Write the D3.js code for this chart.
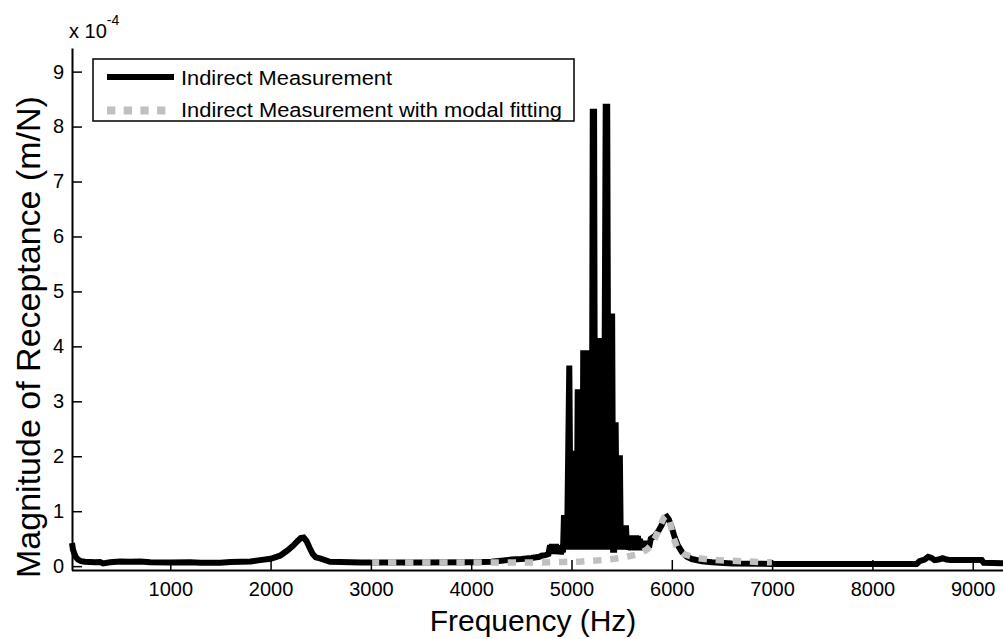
<!DOCTYPE html>
<html>
<head>
<meta charset="utf-8">
<script src="https://cdn.jsdelivr.net/npm/d3@7"></script>
<style>
  body { margin: 0; background: #fff; }
  svg { display: block; }
  text { font-family: "Liberation Sans", Arial, sans-serif; fill: #000; }
</style>
</head>
<body>
<svg id="chart" width="1003" height="639"></svg>
<script>
// Receptance magnitude in units of 1e-4 m/N, frequency in Hz.
// Indirect measurement: [frequency, magnitude]
const measured = [
  [20, 0.42], [30, 0.30], [45, 0.22], [60, 0.16], [80, 0.12], [110, 0.09], [150, 0.08],
  [250, 0.07], [300, 0.075], [330, 0.05], [400, 0.07], [500, 0.085], [600, 0.08],
  [700, 0.085], [800, 0.07], [1000, 0.065], [1200, 0.07], [1300, 0.06], [1500, 0.06],
  [1600, 0.075], [1700, 0.08], [1800, 0.085], [1894, 0.11], [2000, 0.135], [2094, 0.19],
  [2164, 0.28], [2223, 0.37], [2260, 0.44], [2300, 0.51], [2330, 0.52], [2360, 0.45],
  [2390, 0.33], [2420, 0.22], [2450, 0.16], [2493, 0.14], [2592, 0.08], [2700, 0.075],
  [2800, 0.07], [2900, 0.065],
  [3000, 0.065], [3500, 0.065], [4000, 0.07], [4200, 0.08], [4300, 0.1], [4400, 0.12],
  [4500, 0.13], [4600, 0.15], [4680, 0.17], [4700, 0.19], [4740, 0.2], [4770, 0.22],
  // dense resonance band
  [4786, 0.38], [4795, 0.22], [4805, 0.40], [4815, 0.22], [4825, 0.40], [4835, 0.24],
  [4845, 0.40], [4855, 0.22], [4865, 0.38], [4875, 0.22], [4885, 0.30], [4895, 0.22],
  [4905, 0.30], [4915, 0.25], [4925, 0.93], [4935, 0.30], [4945, 0.93], [4955, 0.30],
  [4978, 3.65], [4992, 0.30], [5002, 1.20], [5012, 0.30], [5025, 2.10], [5037, 0.30],
  [5045, 1.50], [5052, 0.30], [5062, 3.22], [5072, 0.30], [5082, 3.22], [5092, 0.30],
  [5100, 3.22], [5108, 0.30], [5117, 3.93], [5127, 0.30], [5137, 3.93], [5147, 0.30],
  [5157, 3.93], [5167, 0.30], [5177, 3.93], [5187, 0.30], [5195, 3.90], [5202, 0.30],
  [5212, 8.27], [5225, 8.27], [5235, 0.30], [5245, 4.15], [5253, 0.30], [5262, 4.15],
  [5270, 0.30], [5278, 4.15], [5288, 0.30], [5304, 3.15], [5322, 0.30], [5341, 8.36],
  [5356, 8.36], [5370, 0.30], [5385, 4.60], [5395, 0.30], [5405, 4.60], [5415, 0.30],
  [5425, 0.30], [5440, 2.62], [5452, 0.30], [5465, 2.02], [5475, 0.30], [5482, 2.02],
  [5492, 0.30], [5503, 0.74], [5513, 0.32], [5523, 0.74], [5533, 0.30], [5543, 0.74],
  [5553, 0.31], [5563, 0.56], [5573, 0.30], [5583, 0.56], [5593, 0.29], [5603, 0.56],
  [5613, 0.30], [5623, 0.55], [5633, 0.29], [5643, 0.56], [5653, 0.30], [5663, 0.55],
  [5673, 0.29], [5683, 0.50], [5693, 0.30], [5703, 0.46], [5713, 0.29], [5723, 0.46],
  [5733, 0.30], [5743, 0.46], [5753, 0.32], [5763, 0.46], [5773, 0.34], [5790, 0.50],
  // second mode and the flat tail
  [5830, 0.55], [5870, 0.65], [5900, 0.75], [5930, 0.88], [5950, 0.90], [5970, 0.85],
  [6000, 0.70], [6030, 0.52], [6060, 0.38], [6100, 0.26], [6150, 0.17], [6200, 0.13],
  [6300, 0.09], [6400, 0.07], [6600, 0.05], [7000, 0.04], [8000, 0.04], [8440, 0.04],
  [8470, 0.09], [8520, 0.12], [8555, 0.17], [8590, 0.15], [8620, 0.11], [8660, 0.12],
  [8700, 0.145], [8740, 0.12], [8780, 0.11], [9090, 0.11], [9110, 0.06], [9302, 0.055]
];

// Indirect measurement with modal fitting: [frequency, magnitude]
const modalFit = [
  [3000, 0.065], [3500, 0.065], [4000, 0.065], [4500, 0.065], [4700, 0.065], [4900, 0.075],
  [5100, 0.085], [5300, 0.11], [5500, 0.15], [5670, 0.22], [5750, 0.3], [5790, 0.37],
  [5830, 0.5], [5860, 0.62], [5890, 0.76], [5920, 0.88], [5945, 0.92], [5970, 0.86],
  [5995, 0.7], [6020, 0.5], [6050, 0.36], [6080, 0.28], [6120, 0.22], [6170, 0.19],
  [6250, 0.15], [6350, 0.125], [6450, 0.11], [6580, 0.1], [6750, 0.085], [6900, 0.075],
  [7000, 0.07]
];

const xTicks = [1000, 2000, 3000, 4000, 5000, 6000, 7000, 8000, 9000];
const yTicks = [0, 1, 2, 3, 4, 5, 6, 7, 8, 9];
const seriesNames = ["Indirect Measurement", "Indirect Measurement with modal fitting"];
const xTitle = "Frequency (Hz)";
const yTitle = "Magnitude of Receptance (m/N)";

const svg = d3.select("#chart");
svg.append("rect").attr("width", 1003).attr("height", 639).attr("fill", "#fff");

const x = d3.scaleLinear().domain([15, 9302]).range([71.5, 1003]);
const y = d3.scaleLinear().domain([-0.07, 9.43]).range([570, 48]);

const line = d3.line().x(d => x(d[0])).y(d => y(d[1]));

const plot = svg.append("g");

plot.append("path")
  .datum(measured)
  .attr("d", line)
  .attr("fill", "none")
  .attr("stroke", "#000")
  .attr("stroke-width", 6);

plot.append("path")
  .datum(modalFit)
  .attr("d", line)
  .attr("fill", "none")
  .attr("stroke", "#c0c0c0")
  .attr("stroke-width", 6.5)
  .attr("stroke-dasharray", "8.3 8.8");

// Axes with inward ticks
const xAxis = d3.axisBottom(x).tickValues(xTicks).tickFormat(d3.format("d"))
  .tickSizeInner(-10).tickSizeOuter(0).tickPadding(12);
const yAxis = d3.axisLeft(y).tickValues(yTicks).tickFormat(d3.format("d"))
  .tickSizeInner(-10).tickSizeOuter(0).tickPadding(8);

const gx = svg.append("g").attr("transform", "translate(0,570)").call(xAxis);
const gy = svg.append("g").attr("transform", "translate(72,0)").call(yAxis);

[gx, gy].forEach(g => {
  g.select(".domain").attr("stroke", "#000").attr("stroke-width", 2);
  g.selectAll(".tick line").attr("stroke", "#000").attr("stroke-width", 1.5);
  g.selectAll(".tick text")
    .style("font-family", "'Liberation Sans', Arial, sans-serif")
    .style("font-size", "20px")
    .attr("fill", "#000");
});

// Exponent marker for the y axis
const expo = svg.append("text")
  .attr("x", 69).attr("y", 38)
  .style("font-size", "20px");
expo.append("tspan").text("x 10");
expo.append("tspan").attr("dy", -13).style("font-size", "14px").text("-4");

// Axis titles
svg.append("text")
  .attr("x", 533).attr("y", 631)
  .attr("text-anchor", "middle")
  .style("font-size", "30px")
  .text(xTitle);

svg.append("text")
  .attr("transform", "translate(40,337) rotate(-90)")
  .attr("text-anchor", "middle")
  .style("font-size", "34px")
  .text(yTitle);

// Legend
const legend = svg.append("g");
legend.append("rect")
  .attr("x", 93).attr("y", 59).attr("width", 481).attr("height", 62)
  .attr("fill", "#fff").attr("stroke", "#000").attr("stroke-width", 1.5);

legend.append("line")
  .attr("x1", 107).attr("x2", 174).attr("y1", 77).attr("y2", 77)
  .attr("stroke", "#000").attr("stroke-width", 6);
legend.append("line")
  .attr("x1", 107).attr("x2", 166).attr("y1", 110.5).attr("y2", 110.5)
  .attr("stroke", "#c0c0c0").attr("stroke-width", 8)
  .attr("stroke-dasharray", "8.3 8.4");

legend.append("text")
  .attr("x", 181).attr("y", 85)
  .attr("textLength", 211).attr("lengthAdjust", "spacingAndGlyphs")
  .style("font-size", "20px")
  .text(seriesNames[0]);
legend.append("text")
  .attr("x", 181).attr("y", 117)
  .attr("textLength", 381).attr("lengthAdjust", "spacingAndGlyphs")
  .style("font-size", "20px")
  .text(seriesNames[1]);
</script>
</body>
</html>
